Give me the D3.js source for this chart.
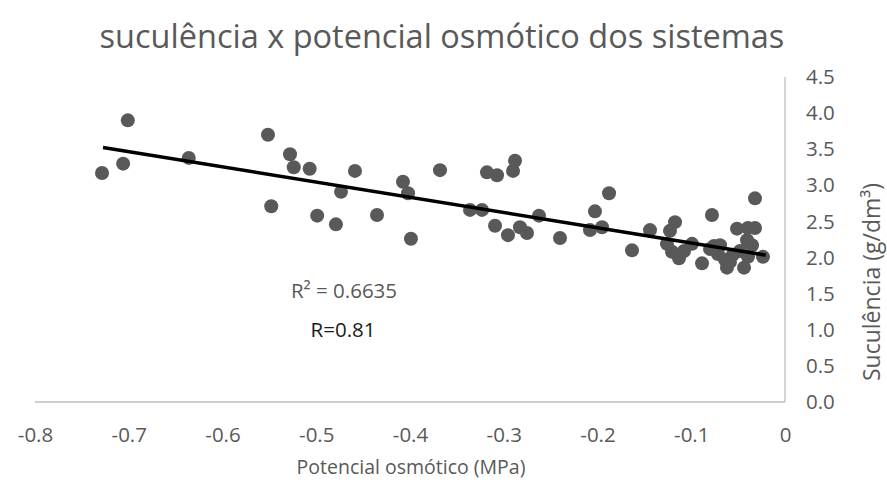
<!DOCTYPE html>
<html>
<head>
<meta charset="utf-8">
<script src="https://cdn.jsdelivr.net/npm/d3@7"></script>
<style>
  html, body { margin: 0; padding: 0; background: #fff; }
  svg { display: block; }
  text { font-family: "Open Sans", sans-serif; fill: #595959; }
</style>
</head>
<body>
<svg id="chart" width="887" height="484"></svg>
<script>
// Osmotic potential (MPa) of each sample
const potencial = [
  -0.7285, -0.706, -0.701, -0.636,
  -0.5515, -0.528, -0.524, -0.507, -0.4587, -0.4736, -0.548, -0.499, -0.479, -0.4352,
  -0.4075, -0.4021, -0.368, -0.399, -0.336, -0.3232, -0.3093, -0.3179, -0.3072, -0.2901, -0.288,
  -0.2955, -0.2827, -0.2752, -0.2624, -0.24, -0.208, -0.2027, -0.1952, -0.1877, -0.1632, -0.144,
  -0.1173, -0.1227, -0.1259, -0.1205, -0.1131, -0.1077, -0.0992, -0.0779, -0.0885, -0.08,
  -0.0715, -0.064, -0.0619, -0.0512, -0.0395, -0.032, -0.032, -0.0437, -0.0352, -0.0235,
  -0.0555, -0.048, -0.0693, -0.0395, -0.0587, -0.0757, -0.0405
];
// Succulence (g/dm³) of each sample
const suculencia = [
  3.17, 3.30, 3.90, 3.38,
  3.70, 3.43, 3.25, 3.23, 3.20, 2.91, 2.71, 2.58, 2.46, 2.59,
  3.05, 2.89, 3.21, 2.26, 2.66, 2.66, 2.44, 3.18, 3.14, 3.20, 3.34,
  2.31, 2.42, 2.34, 2.58, 2.27, 2.38, 2.64, 2.42, 2.89, 2.10, 2.38,
  2.49, 2.37, 2.19, 2.08, 1.99, 2.09, 2.19, 2.59, 1.92, 2.12,
  2.05, 1.97, 1.86, 2.40, 2.41, 2.41, 2.82, 1.86, 2.17, 2.01,
  2.04, 2.09, 2.17, 2.01, 1.94, 2.16, 2.24
];
// Linear trendline: span in x and fitted coefficients [slope, intercept]
const tendenciaX = [-0.7275, -0.0205];
const tendenciaCoef = [-2.11, 1.99];
const xTicks = [-0.8, -0.7, -0.6, -0.5, -0.4, -0.3, -0.2, -0.1, 0];
const yTicks = [0, 0.5, 1.0, 1.5, 2.0, 2.5, 3.0, 3.5, 4.0, 4.5];
const titulo = "suculência x potencial osmótico dos sistemas";
const tituloX = "Potencial osmótico (MPa)";
const tituloY = "Suculência (g/dm³)";
const rotuloR2 = "R² = 0.6635";
const rotuloR = "R=0.81";

const svg = d3.select("#chart");
const x = d3.scaleLinear().domain([-0.8, 0]).range([35, 785]);
const y = d3.scaleLinear().domain([0, 4.5]).range([402, 77]);

// axis lines
svg.append("line").attr("x1", x(-0.8)).attr("x2", x(0)).attr("y1", y(0)).attr("y2", y(0))
  .attr("stroke", "#bfbfbf").attr("stroke-width", 1.3);
svg.append("line").attr("x1", x(0)).attr("x2", x(0)).attr("y1", y(0)).attr("y2", y(4.5))
  .attr("stroke", "#bfbfbf").attr("stroke-width", 1.3);

// plain hyphen for negatives
const fmtX = d => d === 0 ? "0" : d3.format(".1f")(d).replace("\u2212", "-");

// x tick labels
const xAxis = d3.axisBottom(x).tickValues(xTicks).tickSize(0).tickPadding(0).tickFormat(fmtX);
const gx = svg.append("g").attr("transform", `translate(0,${y(0) + 33})`).call(xAxis);
gx.select(".domain").remove();
gx.selectAll("text").attr("font-size", 20.5).attr("dy", "0.32em")
  .style("font-family", "'Open Sans', sans-serif").attr("fill", "#595959");

// y tick labels on the right
const yAxis = d3.axisRight(y).tickValues(yTicks).tickSize(0).tickPadding(0)
  .tickFormat(d3.format(".1f"));
const gy = svg.append("g").attr("transform", `translate(806,0)`).call(yAxis);
gy.select(".domain").remove();
gy.selectAll("text").attr("font-size", 20.5).attr("text-anchor", "start")
  .style("font-family", "'Open Sans', sans-serif").attr("fill", "#595959");

// scatter points
const pts = potencial.map((p, i) => ({ p, s: suculencia[i] }));
svg.append("g").selectAll("circle").data(pts).join("circle")
  .attr("cx", d => x(d.p)).attr("cy", d => y(d.s)).attr("r", 7)
  .attr("fill", "#595959");

// trendline
const tend = tendenciaX.map(v => [x(v), y(tendenciaCoef[0] * v + tendenciaCoef[1])]);
svg.append("path").attr("d", d3.line()(tend))
  .attr("stroke", "#000").attr("stroke-width", 3.5).attr("fill", "none");

// regression labels
svg.append("text").attr("x", 344).attr("y", 298).attr("text-anchor", "middle")
  .attr("font-size", 20.5).text(rotuloR2);
svg.append("text").attr("x", 343).attr("y", 337).attr("text-anchor", "middle")
  .attr("font-size", 20.5).style("fill", "#1a1a1a").text(rotuloR);

// titles
svg.append("text").attr("x", 442).attr("y", 48).attr("text-anchor", "middle")
  .attr("font-size", 32.5).text(titulo);
svg.append("text").attr("x", 411).attr("y", 474).attr("text-anchor", "middle")
  .attr("font-size", 19.5).text(tituloX);
svg.append("text").attr("transform", "translate(880,282) rotate(-90)")
  .attr("text-anchor", "middle").attr("font-size", 23).text(tituloY);
</script>
</body>
</html>
